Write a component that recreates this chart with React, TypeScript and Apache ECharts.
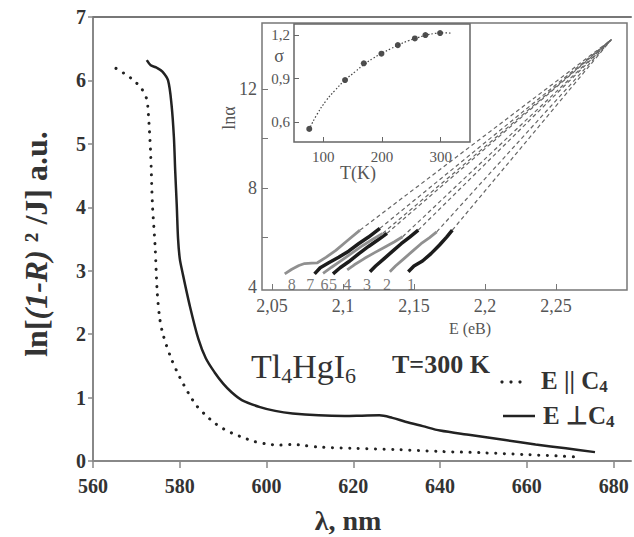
import React, { useEffect, useRef } from 'react';
import * as echarts from 'echarts';

const FONT = "'Liberation Serif','Times New Roman',serif";

// Main chart: E || C4 (dotted)
const lamPar = [565.3, 567.4, 569.4, 571.3, 572.4, 572.7, 572.9, 573.3, 573.7, 574.3, 574.8, 575.4, 576.2, 578, 580, 582, 583.9, 586, 588, 590, 592.3, 594.6, 597, 600, 603, 606, 608, 612, 620, 630, 640, 650, 660, 667, 672];
const valPar = [6.19, 6.1, 6.0, 5.86, 5.7, 5.52, 5.33, 4.83, 4.04, 3.4, 2.66, 2.24, 1.98, 1.62, 1.32, 1.07, 0.87, 0.72, 0.6, 0.51, 0.43, 0.37, 0.31, 0.27, 0.25, 0.26, 0.25, 0.22, 0.2, 0.18, 0.15, 0.13, 0.1, 0.08, 0.06];
// Main chart: E ⊥ C4 (solid)
const lamPerp = [572.4, 573.3, 574.7, 576, 577.3, 578.1, 578.65, 578.95, 579.3, 579.6, 580, 580.6, 582.3, 584.3, 586, 588, 590, 592, 594.3, 598.5, 602, 606, 612, 618, 622, 626, 629, 632, 636, 640, 647, 655, 662, 669, 675.7];
const valPerp = [6.32, 6.24, 6.2, 6.14, 6.0, 5.62, 5.1, 4.57, 4.04, 3.51, 3.19, 2.98, 2.45, 1.92, 1.62, 1.4, 1.22, 1.08, 0.96, 0.85, 0.79, 0.75, 0.72, 0.71, 0.715, 0.72, 0.68, 0.62, 0.55, 0.48, 0.41, 0.33, 0.26, 0.2, 0.14];
const xTicksMain = [560, 580, 600, 620, 640, 660, 680];

// Inset: ln(alpha) vs E (eV), curves 1..8
const curve1 = [[2.146, 4.62], [2.15, 4.85], [2.156, 5.05], [2.162, 5.35], [2.168, 5.7], [2.173, 6.02], [2.177, 6.3]];
const curve2 = [[2.133, 4.62], [2.137, 4.85], [2.143, 5.15], [2.149, 5.45], [2.155, 5.75], [2.161, 6.0], [2.166, 6.23]];
const curve3 = [[2.119, 4.62], [2.123, 4.85], [2.129, 5.15], [2.135, 5.45], [2.141, 5.75], [2.147, 6.02], [2.153, 6.3]];
const curve4 = [[2.103, 4.69], [2.108, 4.9], [2.115, 5.15], [2.122, 5.38], [2.129, 5.6], [2.136, 5.82], [2.142, 6.03]];
const curve5 = [[2.093, 4.53], [2.098, 4.78], [2.104, 5.02], [2.111, 5.34], [2.118, 5.64], [2.125, 5.92], [2.131, 6.17]];
const curve6 = [[2.086, 4.55], [2.092, 4.8], [2.099, 5.08], [2.107, 5.4], [2.114, 5.68], [2.121, 5.93], [2.128, 6.17]];
const curve7 = [[2.08, 4.53], [2.084, 4.78], [2.09, 4.98], [2.097, 5.2], [2.104, 5.45], [2.111, 5.75], [2.118, 6.02], [2.126, 6.37]];
const curve8 = [[2.059, 4.53], [2.064, 4.72], [2.069, 4.87], [2.073, 4.95], [2.078, 4.97], [2.082, 4.98], [2.088, 5.2], [2.095, 5.48], [2.103, 5.87], [2.112, 6.3]];
const insetCurves = [curve1, curve2, curve3, curve4, curve5, curve6, curve7, curve8];
const convergePoint = [2.289, 14.0];
const curveLabels = ['8', '7', '6', '5', '4', '3', '2', '1'];
const curveLabelX = [2.064, 2.077, 2.087, 2.093, 2.103, 2.117, 2.131, 2.148];
const insetXTicks = [2.05, 2.1, 2.15, 2.2, 2.25];
const insetYLabels = [4, 8, 12];
const insetYTicks = [6, 8, 10, 12];

// Inner inset: sigma vs T
const sigmaT = [76, 137, 169, 199, 227, 256, 274, 299];
const sigmaVal = [0.555, 0.89, 1.005, 1.071, 1.13, 1.176, 1.199, 1.213];
const fitT = [78, 90, 105, 120, 137, 155, 170, 185, 200, 215, 230, 245, 260, 275, 290, 305, 320];
const fitSigma = [0.57, 0.66, 0.75, 0.82, 0.89, 0.95, 1.0, 1.04, 1.075, 1.105, 1.135, 1.16, 1.18, 1.198, 1.21, 1.214, 1.212];
const innerXTicks = [100, 200, 300];
const innerYTicks = [0.6, 0.9, 1.2];

const comma = (v: number) => String(v).replace('.', ',');

export default function App() {
  const ref = useRef<HTMLDivElement>(null);
  useEffect(() => {
    const chart = echarts.init(ref.current!, null, { renderer: 'svg' });
    const option: any = {
      animation: false,
      backgroundColor: '#fff',
      grid: [
        { left: 93, top: 17, width: 538, height: 444, show: false },
        { left: 262, top: 23, width: 365, height: 267, show: true, borderColor: '#777', borderWidth: 1.5, backgroundColor: 'transparent' },
        { left: 294, top: 24, width: 176, height: 118, show: true, borderColor: '#666', borderWidth: 1.5, backgroundColor: '#fff' },
      ],
      xAxis: [
        {
          gridIndex: 0, type: 'value', min: 560, max: 684, position: 'bottom',
          axisLine: { show: true, lineStyle: { color: '#888', width: 2 } },
          axisTick: { show: true, length: 7, customValues: xTicksMain, lineStyle: { color: '#888', width: 1.5 } },
          axisLabel: { customValues: xTicksMain, fontFamily: FONT, fontWeight: 'bold', fontSize: 20, color: '#333', margin: 15 },
          splitLine: { show: false },
        },
        {
          gridIndex: 0, type: 'value', min: 560, max: 684, position: 'top',
          axisLine: { show: true, onZero: false, lineStyle: { color: '#777', width: 2 } },
          axisTick: { show: false }, axisLabel: { show: false }, splitLine: { show: false },
        },
        {
          gridIndex: 1, type: 'value', min: 2.043, max: 2.3,
          axisLine: { show: false },
          axisTick: { show: true, inside: true, length: 6, customValues: insetXTicks, lineStyle: { color: '#777' } },
          axisLabel: { customValues: insetXTicks, formatter: comma, fontFamily: FONT, fontSize: 18, color: '#555', margin: 7 },
          splitLine: { show: false },
        },
        {
          gridIndex: 2, type: 'value', min: 50, max: 350,
          axisLine: { show: false },
          axisTick: { show: true, inside: true, length: 5, customValues: innerXTicks, lineStyle: { color: '#666' } },
          axisLabel: { customValues: innerXTicks, fontFamily: FONT, fontSize: 15, color: '#555', margin: 7 },
          splitLine: { show: false },
        },
      ],
      yAxis: [
        {
          gridIndex: 0, type: 'value', min: 0, max: 7, interval: 1,
          axisLine: { show: true, lineStyle: { color: '#888', width: 2 } },
          axisTick: { show: true, length: 5, lineStyle: { color: '#888', width: 1.5 } },
          axisLabel: { fontFamily: FONT, fontWeight: 'bold', fontSize: 20, color: '#333', margin: 7 },
          splitLine: { show: false },
        },
        {
          gridIndex: 1, type: 'value', min: 3.88, max: 14.67,
          axisLine: { show: false },
          axisTick: { show: true, inside: true, length: 6, customValues: insetYTicks, lineStyle: { color: '#777' } },
          axisLabel: { customValues: insetYLabels, fontFamily: FONT, fontSize: 18, color: '#555', margin: 5 },
          splitLine: { show: false },
        },
        {
          gridIndex: 2, type: 'value', min: 0.465, max: 1.275,
          axisLine: { show: false },
          axisTick: { show: true, inside: true, length: 5, customValues: innerYTicks, lineStyle: { color: '#666' } },
          axisLabel: { customValues: innerYTicks, formatter: comma, fontFamily: FONT, fontSize: 15, color: '#555', margin: 4 },
          splitLine: { show: false },
        },
      ],
      series: [
        {
          type: 'line', xAxisIndex: 0, yAxisIndex: 0, symbol: 'none', smooth: 0.3,
          data: lamPar.map((x, i) => [x, valPar[i]]),
          lineStyle: { color: '#222', width: 3, type: [0.1, 8.5], cap: 'round' },
        },
        {
          type: 'line', xAxisIndex: 0, yAxisIndex: 0, symbol: 'none', smooth: 0.3,
          data: lamPerp.map((x, i) => [x, valPerp[i]]),
          lineStyle: { color: '#222', width: 2.5 },
        },
        ...insetCurves.map((c) => ({
          type: 'line', xAxisIndex: 2, yAxisIndex: 1, symbol: 'none', z: 1,
          data: [c[c.length - 1], convergePoint],
          lineStyle: { color: '#666', width: 1.2, type: [4, 3] },
        })),
        ...insetCurves.map((c, i) => ({
          type: 'line', xAxisIndex: 2, yAxisIndex: 1, symbol: 'none', z: 3,
          data: c,
          lineStyle: { color: i % 2 === 0 ? '#1c1c1c' : '#909090', width: i % 2 === 0 ? 3.5 : 2.8 },
        })),
        {
          type: 'scatter', xAxisIndex: 2, yAxisIndex: 1, symbolSize: 0, silent: true,
          data: curveLabels.map((n, i) => ({ name: n, value: [curveLabelX[i], 4.12] })),
          label: { show: true, formatter: '{b}', position: 'inside', fontFamily: FONT, fontSize: 16, color: '#555' },
        },
        {
          type: 'line', xAxisIndex: 3, yAxisIndex: 2, symbol: 'none', smooth: true,
          data: fitT.map((t, i) => [t, fitSigma[i]]),
          lineStyle: { color: '#444', width: 1.2, type: [1.5, 2] },
        },
        {
          type: 'scatter', xAxisIndex: 3, yAxisIndex: 2, symbol: 'circle', symbolSize: 6,
          data: sigmaT.map((t, i) => [t, sigmaVal[i]]),
          itemStyle: { color: '#222' },
        },
      ],
      graphic: [
        {
          type: 'text', x: 36, y: 244, rotation: Math.PI / 2,
          style: {
            text: '{b|ln[}{i|(1-R)}{b| ² /J] a.u.}',
            rich: {
              b: { fontFamily: FONT, fontWeight: 'bold', fontSize: 32, fill: '#333' },
              i: { fontFamily: FONT, fontWeight: 'bold', fontStyle: 'italic', fontSize: 32, fill: '#333' },
            },
            align: 'center', verticalAlign: 'middle',
          },
        },
        {
          type: 'text', x: 348, y: 520,
          style: { text: 'λ, nm', fontFamily: FONT, fontWeight: 'bold', fontSize: 28, fill: '#333', align: 'center', verticalAlign: 'middle' },
        },
        {
          type: 'text', x: 251, y: 366,
          style: {
            text: '{m|Tl}{s|4}{m|HgI}{s|6}',
            rich: {
              m: { fontFamily: FONT, fontSize: 34, fill: '#333', lineHeight: 40 },
              s: { fontFamily: FONT, fontSize: 22, fill: '#333', padding: [14, 0, 0, 0], verticalAlign: 'bottom' },
            },
            verticalAlign: 'middle',
          },
        },
        {
          type: 'text', x: 392, y: 364,
          style: { text: 'T=300 K', fontFamily: FONT, fontWeight: 'bold', fontSize: 26, fill: '#333', verticalAlign: 'middle' },
        },
        { type: 'circle', shape: { cx: 502, cy: 382, r: 1.6 }, style: { fill: '#222' } },
        { type: 'circle', shape: { cx: 511, cy: 382, r: 1.6 }, style: { fill: '#222' } },
        { type: 'circle', shape: { cx: 520, cy: 382, r: 1.6 }, style: { fill: '#222' } },
        {
          type: 'text', x: 541, y: 380,
          style: {
            text: '{m|E || C}{s|4}',
            rich: {
              m: { fontFamily: FONT, fontWeight: 'bold', fontSize: 25, fill: '#333', lineHeight: 30 },
              s: { fontFamily: FONT, fontWeight: 'bold', fontSize: 17, fill: '#333', padding: [8, 0, 0, 0], verticalAlign: 'bottom' },
            },
            verticalAlign: 'middle',
          },
        },
        { type: 'line', shape: { x1: 503, y1: 416, x2: 535, y2: 416 }, style: { stroke: '#222', lineWidth: 2.5 } },
        {
          type: 'text', x: 543, y: 415,
          style: {
            text: '{m|E ⊥C}{s|4}',
            rich: {
              m: { fontFamily: FONT, fontWeight: 'bold', fontSize: 25, fill: '#333', lineHeight: 30 },
              s: { fontFamily: FONT, fontWeight: 'bold', fontSize: 17, fill: '#333', padding: [8, 0, 0, 0], verticalAlign: 'bottom' },
            },
            verticalAlign: 'middle',
          },
        },
        {
          type: 'text', x: 229, y: 118, rotation: Math.PI / 2,
          style: { text: 'lnα', fontFamily: FONT, fontSize: 18, fill: '#555', align: 'center', verticalAlign: 'middle' },
        },
        {
          type: 'text', x: 470, y: 328,
          style: { text: 'E (eB)', fontFamily: FONT, fontSize: 16, fill: '#555', align: 'center', verticalAlign: 'middle' },
        },
        {
          type: 'text', x: 358, y: 173,
          style: { text: 'T(K)', fontFamily: FONT, fontSize: 18, fill: '#555', align: 'center', verticalAlign: 'middle' },
        },
        {
          type: 'text', x: 279, y: 56,
          style: { text: 'σ', fontFamily: FONT, fontSize: 18, fill: '#555', align: 'center', verticalAlign: 'middle' },
        },
      ],
    };
    chart.setOption(option);
    return () => chart.dispose();
  }, []);
  return <div ref={ref} style={{ width: 634, height: 537, position: 'absolute', left: 0, top: 0 }} />;
}
